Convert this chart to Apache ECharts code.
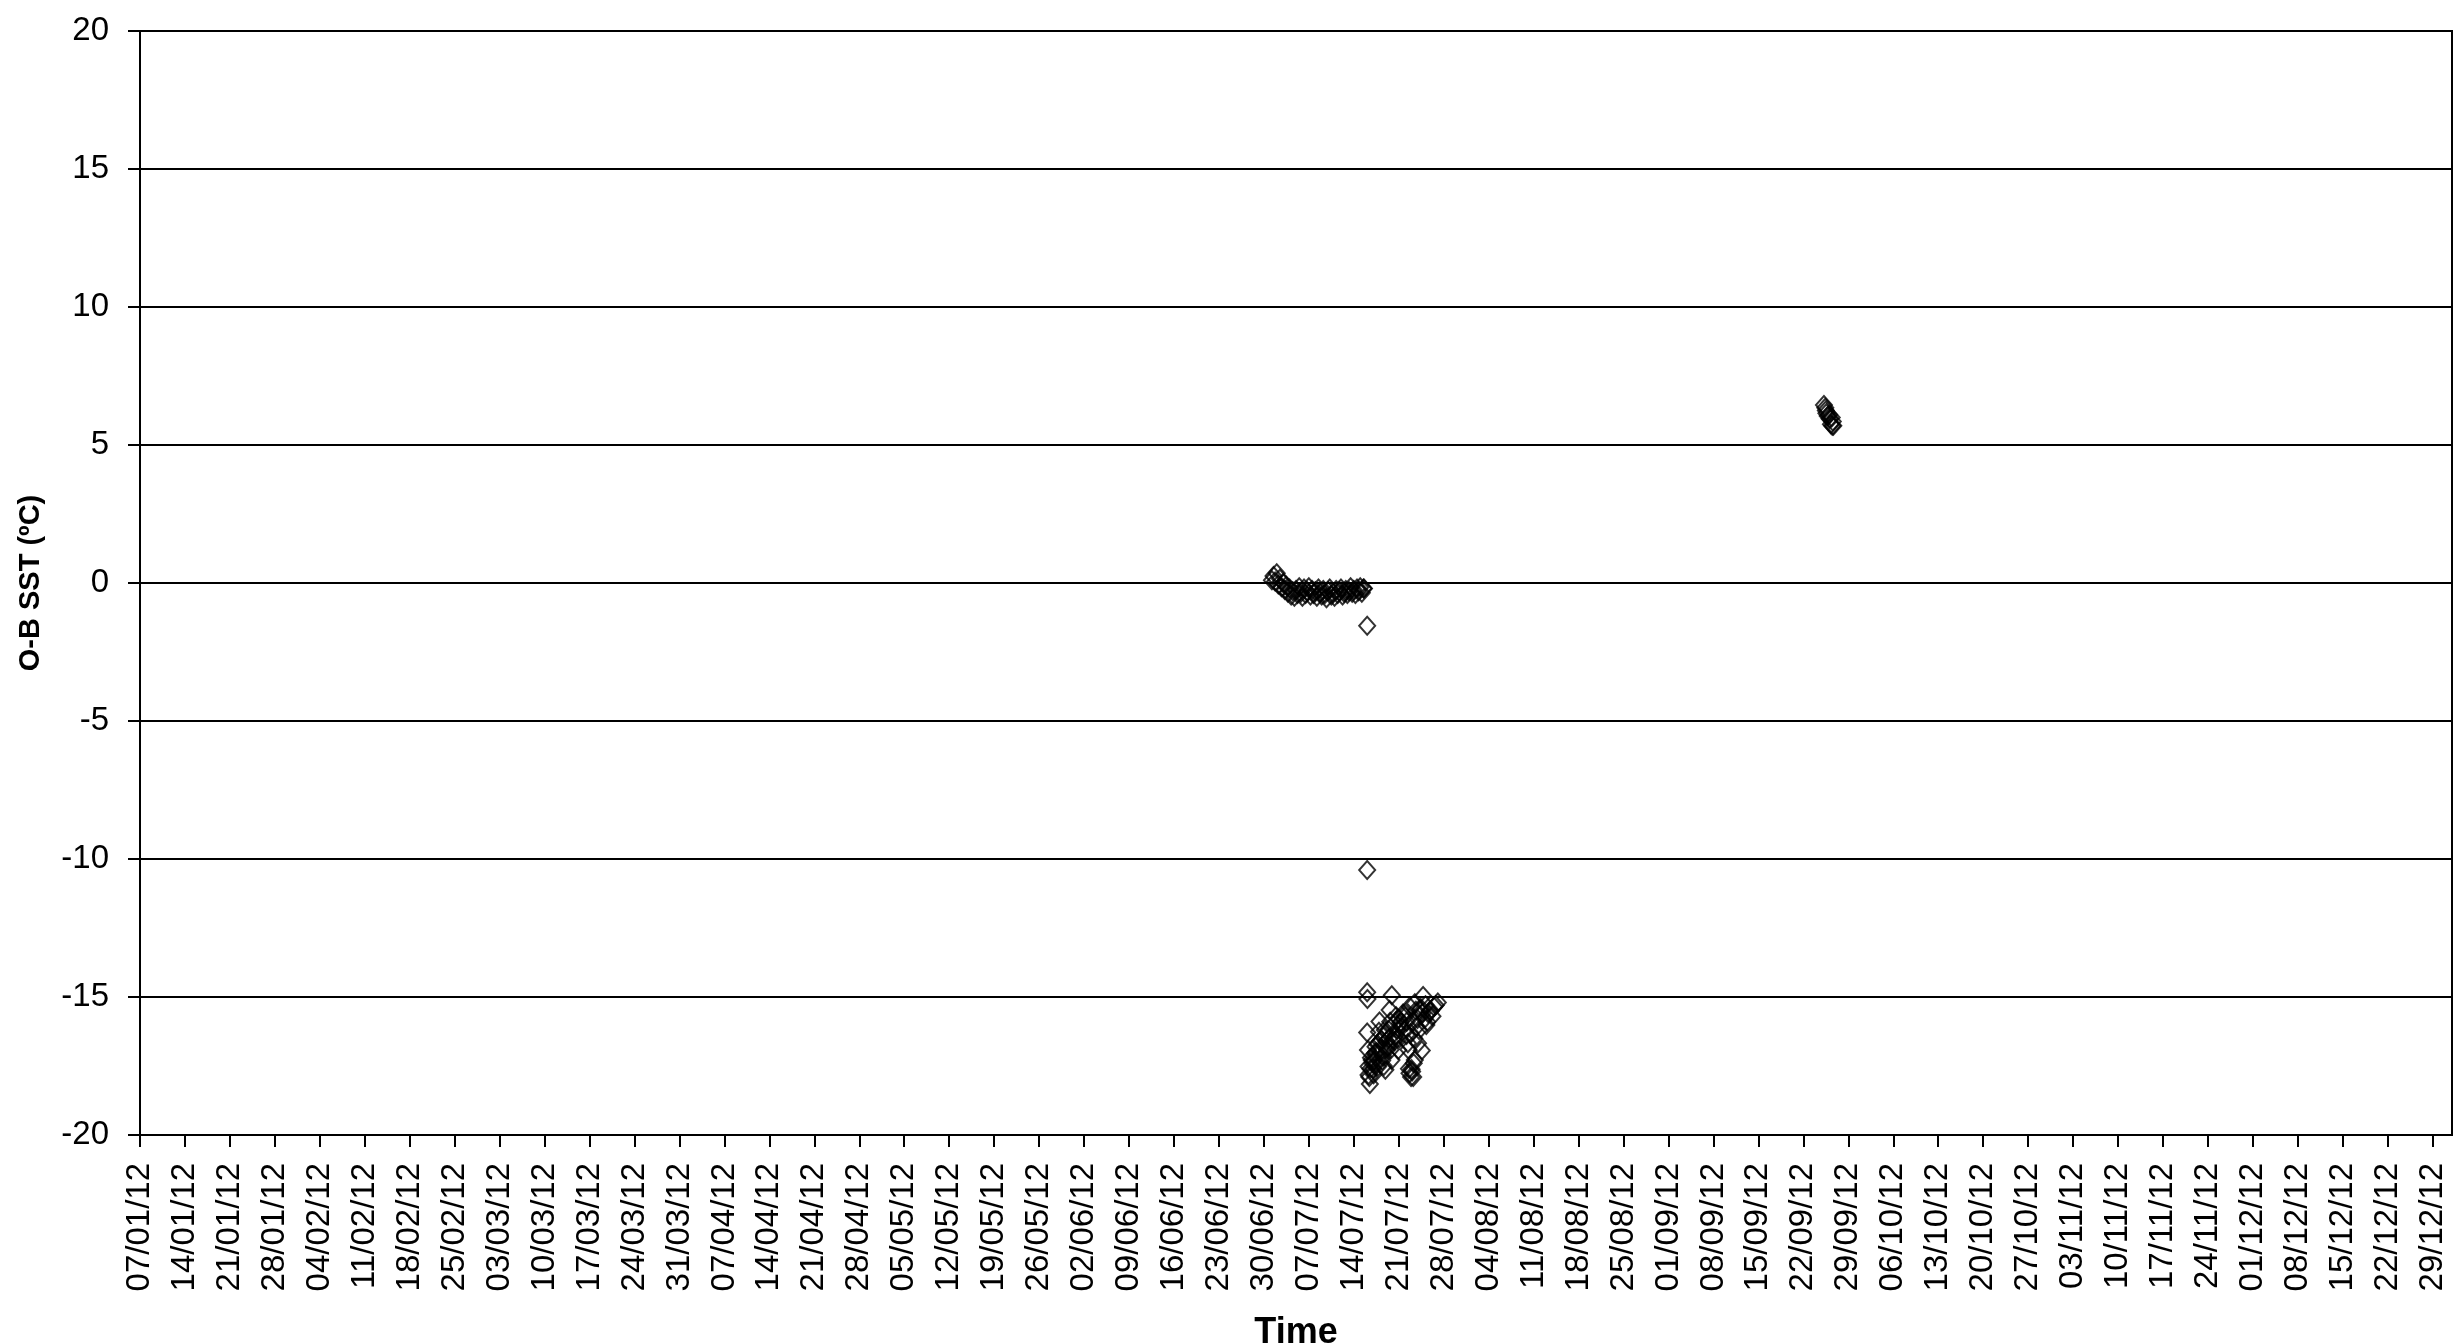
<!DOCTYPE html>
<html>
<head>
<meta charset="utf-8">
<script src="https://cdn.jsdelivr.net/npm/echarts@6/dist/echarts.min.js"></script>
<style>
html,body{margin:0;padding:0;background:#fff;}
#chart{width:2454px;height:1344px;}
</style>
</head>
<body>
<div id="chart"></div>
<script>
// ---- axis ----
const axisStart = '2012-01-07 00:00';
const axisEnd = '2013-01-01 00:00';
const yTicks = [-20, -15, -10, -5, 0, 5, 10, 15, 20];
const tickLabels = ['07/01/12','14/01/12','21/01/12','28/01/12','04/02/12','11/02/12','18/02/12','25/02/12',
  '03/03/12','10/03/12','17/03/12','24/03/12','31/03/12','07/04/12','14/04/12','21/04/12','28/04/12',
  '05/05/12','12/05/12','19/05/12','26/05/12','02/06/12','09/06/12','16/06/12','23/06/12','30/06/12',
  '07/07/12','14/07/12','21/07/12','28/07/12','04/08/12','11/08/12','18/08/12','25/08/12',
  '01/09/12','08/09/12','15/09/12','22/09/12','29/09/12','06/10/12','13/10/12','20/10/12','27/10/12',
  '03/11/12','10/11/12','17/11/12','24/11/12','01/12/12','08/12/12','15/12/12','22/12/12','29/12/12'];

// ---- data: observation time and O-B SST (ºC) ----
const times = [
  // early July cluster near 0
  '2012-07-01 06:00','2012-07-01 12:00','2012-07-01 18:00',
  '2012-07-02 00:00','2012-07-02 06:00','2012-07-02 12:00','2012-07-02 18:00',
  '2012-07-03 00:00','2012-07-03 06:00','2012-07-03 12:00','2012-07-03 18:00',
  '2012-07-04 00:00','2012-07-04 06:00','2012-07-04 12:00','2012-07-04 18:00',
  '2012-07-05 00:00','2012-07-05 06:00','2012-07-05 12:00','2012-07-05 18:00',
  '2012-07-06 00:00','2012-07-06 06:00','2012-07-06 12:00','2012-07-06 18:00',
  '2012-07-07 00:00','2012-07-07 06:00','2012-07-07 12:00','2012-07-07 18:00',
  '2012-07-08 00:00','2012-07-08 06:00','2012-07-08 12:00','2012-07-08 18:00',
  '2012-07-09 00:00','2012-07-09 06:00','2012-07-09 12:00','2012-07-09 18:00',
  '2012-07-10 00:00','2012-07-10 06:00','2012-07-10 12:00','2012-07-10 18:00',
  '2012-07-11 00:00','2012-07-11 06:00','2012-07-11 12:00','2012-07-11 18:00',
  '2012-07-12 00:00','2012-07-12 06:00','2012-07-12 12:00','2012-07-12 18:00',
  '2012-07-13 00:00','2012-07-13 06:00','2012-07-13 12:00','2012-07-13 18:00',
  '2012-07-14 00:00','2012-07-14 06:00','2012-07-14 12:00','2012-07-14 18:00',
  '2012-07-15 00:00','2012-07-15 06:00','2012-07-15 12:00','2012-07-15 14:00',
  // isolated points
  '2012-07-16 02:00','2012-07-16 02:00',
  // late July cluster near -16
  '2012-07-16 02:00','2012-07-16 03:00','2012-07-19 22:00','2012-07-24 19:00','2012-07-26 12:00',
  '2012-07-16 02:00','2012-07-16 12:00','2012-07-16 07:00','2012-07-23 00:00','2012-07-24 14:00',
  '2012-07-22 05:00','2012-07-22 00:00','2012-07-19 14:00','2012-07-17 22:00','2012-07-16 19:00',
  '2012-07-17 07:00','2012-07-17 19:00','2012-07-18 14:00','2012-07-19 07:00','2012-07-20 02:00',
  '2012-07-20 17:00','2012-07-21 05:00','2012-07-22 01:00','2012-07-22 17:00','2012-07-23 12:00',
  '2012-07-24 07:00','2012-07-25 14:00','2012-07-18 22:00','2012-07-19 21:00','2012-07-22 16:00',
  '2012-07-23 12:00','2012-07-24 00:00','2012-07-22 10:00','2012-07-20 22:00','2012-07-18 07:00',
  '2012-07-16 05:00','2012-07-16 07:00','2012-07-25 07:00','2012-07-27 02:00','2012-07-23 19:00',
  '2012-07-18 00:00',
  '2012-07-16 10:00','2012-07-16 14:00','2012-07-16 22:00','2012-07-17 03:00','2012-07-17 12:00',
  '2012-07-17 16:00','2012-07-18 04:00','2012-07-18 10:00','2012-07-18 18:00','2012-07-19 02:00',
  '2012-07-19 10:00','2012-07-19 18:00','2012-07-20 06:00','2012-07-20 12:00','2012-07-21 00:00',
  '2012-07-21 10:00','2012-07-21 16:00','2012-07-22 20:00','2012-07-23 04:00','2012-07-23 08:00',
  '2012-07-23 16:00','2012-07-24 04:00','2012-07-24 10:00','2012-07-25 00:00','2012-07-25 20:00',
  '2012-07-26 06:00','2012-07-26 18:00','2012-07-17 02:00','2012-07-18 16:00','2012-07-22 22:00',
  '2012-07-23 02:00','2012-07-22 14:00',
  '2012-07-16 16:00','2012-07-17 00:00','2012-07-17 09:00','2012-07-17 14:00','2012-07-18 02:00',
  '2012-07-18 12:00','2012-07-18 20:00','2012-07-19 04:00','2012-07-19 12:00','2012-07-19 16:00',
  '2012-07-20 08:00','2012-07-20 14:00','2012-07-21 02:00','2012-07-21 08:00','2012-07-21 20:00',
  '2012-07-22 06:00','2012-07-22 12:00','2012-07-23 06:00','2012-07-23 10:00','2012-07-23 22:00',
  '2012-07-24 16:00','2012-07-25 04:00','2012-07-25 10:00','2012-07-26 00:00',
  // late September cluster near +6
  '2012-09-25 05:00','2012-09-25 10:00','2012-09-25 12:00','2012-09-25 14:00','2012-09-25 19:00',
  '2012-09-26 00:00','2012-09-26 02:00','2012-09-26 07:00','2012-09-26 12:00','2012-09-26 14:00',
  '2012-09-26 10:00','2012-09-26 16:00'
];
const values = [
  0.10, 0.25, 0.05,
  0.35, -0.05, 0.15, -0.15,
  0.00, -0.25, -0.10, -0.35,
  -0.20, -0.45, -0.30, -0.50,
  -0.25, -0.40, -0.15, -0.35,
  -0.50, -0.20, -0.40, -0.30,
  -0.15, -0.45, -0.25, -0.40,
  -0.30, -0.50, -0.20, -0.35,
  -0.45, -0.25, -0.40, -0.55,
  -0.30, -0.20, -0.45, -0.35,
  -0.50, -0.25, -0.40, -0.30,
  -0.20, -0.45, -0.35, -0.25,
  -0.40, -0.30, -0.15, -0.35,
  -0.25, -0.40, -0.20, -0.30,
  -0.15, -0.35, -0.20, -0.20,
  -1.55, -10.40,
  -14.83, -15.07, -14.94, -14.96, -15.35,
  -16.29, -18.15, -17.83, -17.62, -16.94,
  -16.38, -15.71, -15.47, -16.26, -17.28,
  -17.04, -17.52, -17.16, -16.80, -16.56,
  -16.20, -15.95, -15.59, -15.35, -15.23,
  -15.47, -15.59, -17.64, -17.28, -17.76,
  -17.28, -16.68, -16.68, -16.92, -16.56,
  -16.92, -17.52, -16.01, -15.20, -16.07,
  -15.89,
  -17.90, -17.60, -17.40, -17.30, -17.00,
  -16.70, -16.90, -17.30, -16.40, -16.60,
  -16.20, -16.90, -16.00, -16.40, -15.80,
  -16.10, -15.60, -16.30, -15.90, -17.40,
  -15.50, -16.20, -15.40, -15.80, -15.50,
  -15.70, -15.30, -17.80, -17.50, -17.90,
  -17.70, -17.60,
  -17.20, -17.60, -16.80, -17.40, -16.60,
  -16.90, -16.20, -16.90, -16.50, -15.90,
  -16.60, -15.70, -16.50, -15.90, -16.20,
  -15.90, -16.90, -17.90, -16.50, -15.80,
  -15.60, -15.30, -15.90, -15.50,
  6.45, 6.35, 6.25, 6.15, 6.05,
  6.10, 5.95, 5.75, 5.70, 5.85,
  6.00, 5.70
];

function dayOffset(s) {
  const [d, t] = s.split(' ');
  const [Y, M, D] = d.split('-').map(Number);
  const [h, m] = t.split(':').map(Number);
  const [Y0, M0, D0] = axisStart.split(' ')[0].split('-').map(Number);
  return (Date.UTC(Y, M - 1, D, h, m) - Date.UTC(Y0, M0 - 1, D0)) / 86400000;
}

const points = times.map((t, i) => [dayOffset(t), values[i]]);
const tickDays = tickLabels.map((_, i) => i * 7);

const FONT = '"Liberation Sans", Arial, sans-serif';
const chart = echarts.init(document.getElementById('chart'));
chart.setOption({
  animation: false,
  backgroundColor: '#fff',
  grid: {
    left: 140, right: 2, top: 31, bottom: 209,
    outerBoundsMode: 'none',
    containLabel: false,
    show: true, borderColor: '#000', borderWidth: 2, backgroundColor: '#fff'
  },
  xAxis: {
    type: 'value',
    min: 0,
    max: dayOffset(axisEnd),
    interval: 7,
    name: 'Time',
    nameLocation: 'middle',
    nameGap: 180,
    nameTextStyle: { fontFamily: FONT, fontSize: 36, fontWeight: 'bold', color: '#000' },
    axisLine: { show: true, onZero: false, lineStyle: { color: '#000', width: 2 } },
    axisTick: { show: true, customValues: tickDays, length: 12, lineStyle: { color: '#000', width: 2 } },
    axisLabel: {
      customValues: tickDays,
      interval: 0,
      rotate: 90,
      margin: 28,
      fontFamily: FONT, fontSize: 33, color: '#000',
      formatter: v => tickLabels[Math.round(v / 7)] || ''
    },
    splitLine: { show: false }
  },
  yAxis: {
    type: 'value',
    min: yTicks[0],
    max: yTicks[yTicks.length - 1],
    interval: 5,
    name: 'O-B SST (ºC)',
    nameLocation: 'middle',
    nameRotate: 90,
    nameGap: 95,
    nameTextStyle: { fontFamily: FONT, fontSize: 29, fontWeight: 'bold', color: '#000' },
    axisLine: { show: true, onZero: false, lineStyle: { color: '#000', width: 2 } },
    axisTick: { show: true, length: 12, lineStyle: { color: '#000', width: 2 } },
    axisLabel: { margin: 31, fontFamily: FONT, fontSize: 33, color: '#000' },
    splitLine: { show: true, lineStyle: { color: '#000', width: 2 } }
  },
  series: [{
    type: 'scatter',
    data: points,
    symbol: 'diamond',
    symbolSize: [16, 18],
    itemStyle: { color: 'rgba(0,0,0,0)', borderColor: '#000', borderWidth: 2 },
    emphasis: { disabled: true }
  }]
});
</script>
</body>
</html>
